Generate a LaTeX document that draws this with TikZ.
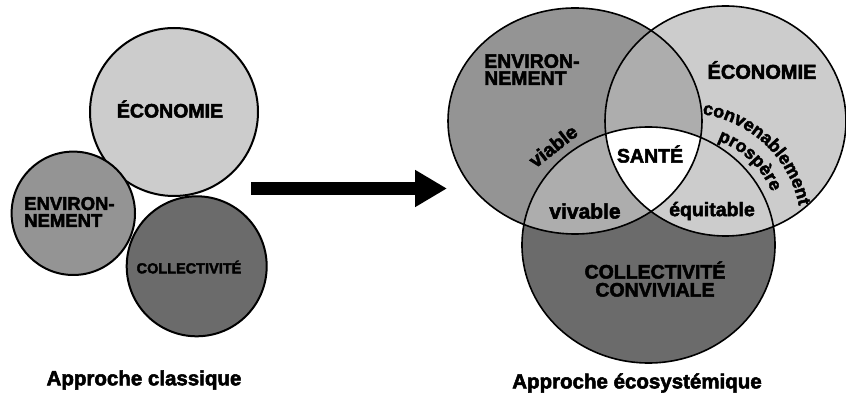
\documentclass[tikz,border=0pt]{standalone}
\usepackage{fontspec}
\setmainfont{Liberation Sans}
\newfontfamily\heavy[FakeBold=2.5, BoldFeatures={FakeBold=2.5}]{Liberation Sans}
\usetikzlibrary{arrows.meta,decorations.text}
\begin{document}
\begin{tikzpicture}[x=1pt,y=1pt,
  fs/.style={font=\heavy\bfseries\fontsize{#1}{#1}\selectfont, inner sep=0pt},
  ring/.style={draw=black, line width=1.6pt},
  lring/.style={draw=black, line width=2pt},
  envR/.style={x radius=127, y radius=113},
  ecoR/.style={x radius=120.5, y radius=115},
  colR/.style={x radius=126.5, y radius=118},
  envfill/.style={fill=black!42},
  ecofill/.style={fill=black!20},
  colfill/.style={fill=black!58},
  mixfill/.style={fill=black!32}]
\useasboundingbox (0,0) rectangle (846,-395);
\fill[white] (0,0) rectangle (846,-395);

% ---------- left: approche classique ----------
\coordinate (lecoc) at (174,-112);
\coordinate (lenvc) at (73.3,-213.3);
\coordinate (lcolc) at (196.7,-266.3);
\filldraw[lring, ecofill] (lecoc) circle[radius=84];
\filldraw[lring, envfill] (lenvc) circle[radius=61.7];
\filldraw[lring, colfill] (lcolc) circle[radius=70];
\node[fs=19.5] (leco) at (170,-109) {ÉCONOMIE};
\node[anchor=west, align=left, inner sep=0pt, font=\heavy\bfseries\fontsize{18.5}{17}\selectfont] (lenv) at (24,-212) {ENVIRON-\\NEMENT};
\node[fs=14.5] (lcol) at (189,-267) {COLLECTIVITÉ};
\node[fs=20.5] (lcap) at (144,-380) {Approche classique};

% ---------- arrow ----------
\coordinate (astart) at (251,-188.5);
\coordinate (aend) at (447,-188.5);
\draw[line width=13pt, -{Triangle[length=32pt,width=35pt]}] (astart) -- (aend);

% ---------- right: approche ecosystemique ----------
\coordinate (envc) at (575,-121);
\coordinate (ecoc) at (725.5,-121);
\coordinate (colc) at (648.5,-245);
\fill[colfill] (colc) ellipse[colR];
\fill[envfill] (envc) ellipse[envR];
\fill[ecofill] (ecoc) ellipse[ecoR];
\begin{scope}
  \clip (envc) ellipse[envR];
  \fill[mixfill] (ecoc) ellipse[ecoR];
  \fill[mixfill] (colc) ellipse[colR];
\end{scope}
\begin{scope}
  \clip (ecoc) ellipse[ecoR];
  \fill[ecofill] (colc) ellipse[colR];
\end{scope}
\begin{scope}
  \clip (envc) ellipse[envR];
  \clip (ecoc) ellipse[ecoR];
  \fill[white] (colc) ellipse[colR];
\end{scope}
\draw[ring] (envc) ellipse[envR];
\draw[ring] (ecoc) ellipse[ecoR];
\draw[ring] (colc) ellipse[colR];

\node[anchor=west, align=left, inner sep=0pt, font=\heavy\bfseries\fontsize{19.5}{17}\selectfont] (renv) at (484,-69.5) {ENVIRON-\\NEMENT};
\node[fs=20] (reco) at (762,-70) {ÉCONOMIE};
\node[fs=19.5] (sante) at (650,-154) {SANTÉ};
\node[fs=21] (vivable) at (585,-211) {vivable};
\node[fs=19.5] (equit) at (712,-211) {équitable};
\node[fs=19.5, rotate=38] (viable) at (553,-146) {viable};
\node[align=center, inner sep=0pt, font=\heavy\bfseries\fontsize{19.5}{18}\selectfont] (rcol) at (655,-279) {COLLECTIVITÉ\\CONVIVIALE};
\node[fs=20.5] (rcap) at (637,-383) {Approche écosystémique};

\coordinate (arcc) at (686,-228);
\path[decorate, decoration={text along path, text align=center,
   text={|\heavy\bfseries\fontsize{18}{18}\selectfont|convenablement}}]
   (arcc) ++(88:115) arc[start angle=88, end angle=5, radius=115];
\path[decorate, decoration={text along path, text align=center,
   text={|\heavy\bfseries\fontsize{18}{18}\selectfont|prospère}}]
   (arcc) ++(76:93) arc[start angle=76, end angle=17, radius=93];
\end{tikzpicture}
\end{document}
